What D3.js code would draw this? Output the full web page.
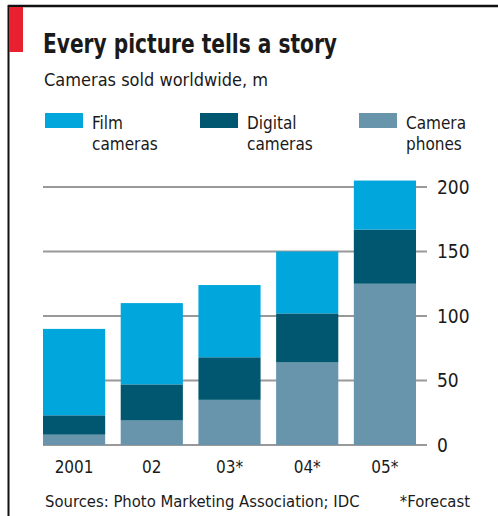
<!DOCTYPE html>
<html><head><meta charset="utf-8">
<script src="https://cdn.jsdelivr.net/npm/d3@7"></script>
<style>
html,body{margin:0;padding:0;background:#fff;}
svg{display:block;}
text{font-family:"DejaVu Sans Condensed","DejaVu Sans",sans-serif;fill:#1a1a1a;}
</style></head>
<body>
<svg id="c" width="498" height="516"></svg>
<script>
const years = ["2001","02","03*","04*","05*"];
const film = [67, 63, 56, 48, 38];
const digital = [15, 28, 33, 38, 42];
const phones = [8, 19, 35, 64, 125];
const yTicks = [0, 50, 100, 150, 200];
const seriesNames = ["Film\ncameras","Digital\ncameras","Camera\nphones"];
const colors = ["#00a6dc","#00576f","#6894ac"];

const svg = d3.select("#c");
// frame
svg.append("rect").attr("x",0).attr("y",0).attr("width",498).attr("height",516).attr("fill","#fff");
svg.append("line").attr("x1",8).attr("x2",498).attr("y1",6).attr("y2",6).attr("stroke","#111").attr("stroke-width",2.5);
svg.append("line").attr("x1",8.5).attr("x2",8.5).attr("y1",5).attr("y2",516).attr("stroke","#111").attr("stroke-width",2);
svg.append("rect").attr("x",9).attr("y",7).attr("width",14).attr("height",45).attr("fill","#e8202f");

svg.append("text").attr("x",43).attr("y",53).attr("font-size",27).attr("font-weight","bold")
  .attr("textLength",294).attr("lengthAdjust","spacingAndGlyphs").text("Every picture tells a story");
svg.append("text").attr("x",44).attr("y",86).attr("font-size",18).attr("fill","#333").text("Cameras sold worldwide, m");

// legend
const legX = [45, 200, 359];
seriesNames.forEach((n,i)=>{
  const g = svg.append("g").attr("transform",`translate(${legX[i]},113)`);
  g.append("rect").attr("width",38).attr("height",15).attr("fill",colors[i]);
  n.split("\n").forEach((l,j)=>{
    g.append("text").attr("x",47).attr("y",16+j*21).attr("font-size",17).attr("fill","#333").text(l);
  });
});

const y = d3.scaleLinear().domain([0,200]).range([445,187]);
const x = d3.scaleBand().domain(years).range([43,416]).paddingInner(0.2).paddingOuter(0);

// gridlines
const grid = svg.append("g");
yTicks.forEach(t=>{
  grid.append("line").attr("x1",43).attr("x2",427).attr("y1",y(t)).attr("y2",y(t))
    .attr("stroke","#999").attr("stroke-width",2);
});

const data = years.map((yr,i)=>({year:yr, film:film[i], digital:digital[i], phones:phones[i]}));
const stack = d3.stack().keys(["phones","digital","film"])(data);
const colMap = {film:colors[0], digital:colors[1], phones:colors[2]};
stack.forEach(s=>{
  svg.append("g").attr("fill",colMap[s.key]).selectAll("rect").data(s).join("rect")
    .attr("x",d=>x(d.data.year)).attr("width",x.bandwidth())
    .attr("y",d=>y(d[1])).attr("height",d=>y(d[0])-y(d[1]));
});

// y axis labels
const yAxis = d3.axisRight(y).tickValues(yTicks).tickSize(0).tickPadding(0);
const ya = svg.append("g").attr("transform","translate(437,0)").call(yAxis);
ya.select(".domain").remove();
ya.selectAll("text").attr("font-size",19).attr("fill","#333").attr("font-family",null);

// x axis labels
const xAxis = d3.axisBottom(x).tickSize(0).tickPadding(0);
const xa = svg.append("g").attr("transform","translate(0,461)").call(xAxis);
xa.select(".domain").remove();
xa.selectAll("text").attr("font-size",17).attr("fill","#333").attr("font-family",null);

svg.append("text").attr("x",45).attr("y",507).attr("font-size",16.5).attr("fill","#333").text("Sources: Photo Marketing Association; IDC");
svg.append("text").attr("x",470).attr("y",507).attr("text-anchor","end").attr("font-size",16.5).attr("fill","#333").text("*Forecast");
</script>
</body></html>
